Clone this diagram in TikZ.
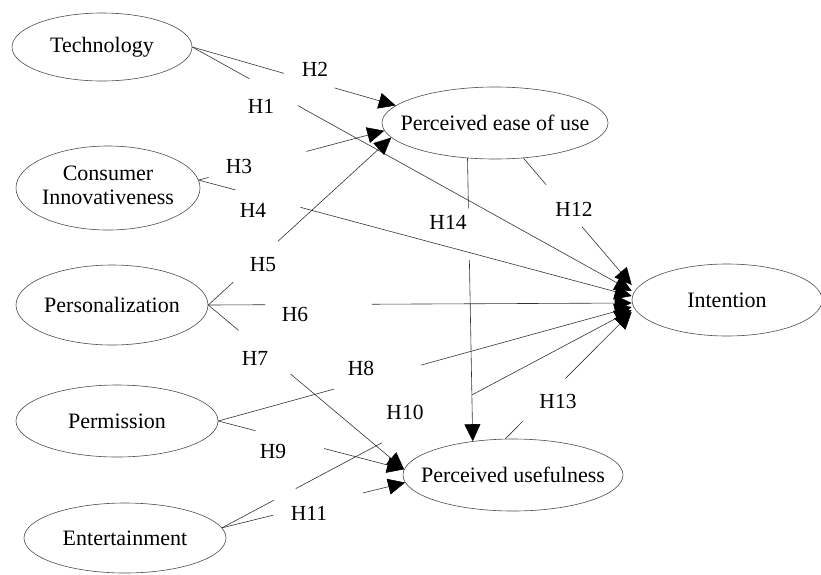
\documentclass[tikz,border=0pt]{standalone}
\usepackage{fontspec}
\setmainfont{Liberation Serif}
\usepackage{tikz}
\usetikzlibrary{shapes.geometric}
\usetikzlibrary{arrows.meta}
\usetikzlibrary{calc}

\begin{document}
\begin{tikzpicture}[x=1pt,y=-1pt,
    construct/.style={ellipse,draw=black!70,line width=0.6pt,inner sep=0pt,
      font=\fontsize{22}{24}\selectfont},
    hyp/.style={inner sep=0pt,font=\fontsize{21.5}{24}\selectfont},
    link/.style={draw=black!80,line width=0.6pt},
    headed/.style={link,-{Triangle[length=17pt,width=16pt,color=black]}}]
    \useasboundingbox (0,0) rectangle (821,574);
    % constructs
    \node[construct,minimum width=180pt,minimum height=68pt] (tech) at (102,47)
      {\makebox[0pt]{Technology}};
    \node[construct,minimum width=184pt,minimum height=84pt] (inno) at (108,188)
      {\makebox[0pt]{\begin{tabular}{@{}c@{}}Consumer\\Innovativeness\end{tabular}}};
    \node[construct,minimum width=192pt,minimum height=80pt] (pers) at (112,305)
      {\makebox[0pt]{Personalization}};
    \node[construct,minimum width=202pt,minimum height=72pt] (perm) at (117,421)
      {\makebox[0pt]{Permission}};
    \node[construct,minimum width=202pt,minimum height=70pt] (ent) at (125,538)
      {\makebox[0pt]{Entertainment}};
    \node[construct,minimum width=226pt,minimum height=72pt] (peou) at (495,123)
      {\makebox[0pt]{Perceived ease of use}};
    \node[construct,minimum width=190pt,minimum height=72pt] (int) at (727,300)
      {\makebox[0pt]{Intention}};
    \node[construct,minimum width=220pt,minimum height=72pt] (pu) at (513,475)
      {\makebox[0pt]{Perceived usefulness}};
    % hypothesis labels
    \node[hyp] (h1) at (261,106) {H1};
    \node[hyp] (h2) at (315,69) {H2};
    \node[hyp] (h3) at (239,166) {H3};
    \node[hyp] (h4) at (253,210) {H4};
    \node[hyp] (h5) at (263,265) {H5};
    \node[hyp] (h6) at (295,314) {H6};
    \node[hyp] (h7) at (255,358) {H7};
    \node[hyp] (h8) at (361,368) {H8};
    \node[hyp] (h9) at (273,451) {H9};
    \node[hyp] (h10) at (405,412) {H10};
    \node[hyp] (h11) at (309,513) {H11};
    \node[hyp] (h12) at (574,209) {H12};
    \node[hyp] (h13) at (558,401) {H13};
    \node[hyp] (h14) at (448,222) {H14};
    % ports on the west side of Intention
    \coordinate (in12) at ([yshift=15pt]int.west);
    \coordinate (in1) at ([yshift=9pt]int.west);
    \coordinate (in4) at ([yshift=4pt]int.west);
    \coordinate (in6) at ([yshift=-3pt]int.west);
    \coordinate (in8) at ([yshift=-7pt]int.west);
    \coordinate (in10) at ([yshift=-10pt]int.west);
    \coordinate (in13) at ([yshift=-12pt]int.west);
    % paths, broken where the label sits
    \draw[link] (tech.east) -- ($(tech.east)!0.13!(in1)$);
    \draw[headed] ($(tech.east)!0.24!(in1)$) -- (in1);
    \draw[link] (tech.east) -- ($(tech.east)!0.45!(peou.170)$);
    \draw[headed] ($(tech.east)!0.70!(peou.170)$) -- (peou.170);
    \draw[link] (inno.5) -- ($(inno.5)!0.053!(peou.184)$);
    \draw[headed] ($(inno.5)!0.58!(peou.184)$) -- (peou.184);
    \draw[link] (inno.5) -- ($(inno.5)!0.085!(in4)$);
    \draw[headed] ($(inno.5)!0.235!(in4)$) -- (in4);
    \draw[link] (pers.east) -- ($(pers.east)!0.136!(peou.188)$);
    \draw[headed] ($(pers.east)!0.38!(peou.188)$) -- (peou.188);
    \draw[link] (pers.east) -- ($(pers.east)!0.134!(in6)$);
    \draw[headed] ($(pers.east)!0.387!(in6)$) -- (in6);
    \draw[link] (pers.east) -- ($(pers.east)!0.154!(pu.177)$);
    \draw[headed] ($(pers.east)!0.42!(pu.177)$) -- (pu.177);
    \draw[link] (perm.east) -- ($(perm.east)!0.28!(in8)$);
    \draw[headed] ($(perm.east)!0.49!(in8)$) -- (in8);
    \draw[link] (perm.east) -- ($(perm.east)!0.2!(pu.177)$);
    \draw[headed] ($(perm.east)!0.57!(pu.177)$) -- (pu.177);
    \draw[link] (ent.6) -- ($(ent.6)!0.126!(in10)$);
    \draw[link] ($(ent.6)!0.18!(in10)$) -- ($(ent.6)!0.39!(in10)$);
    \draw[headed] ($(ent.6)!0.61!(in10)$) -- (in10);
    \draw[link] (ent.6) -- ($(ent.6)!0.28!(pu.184)$);
    \draw[headed] ($(ent.6)!0.77!(pu.184)$) -- (pu.184);
    \draw[link] (peou.-51) -- ($(peou.-51)!0.21!(in12)$);
    \draw[headed] ($(peou.-51)!0.54!(in12)$) -- (in12);
    \draw[link] (pu.102) -- ($(pu.102)!0.14!(in13)$);
    \draw[headed] ($(pu.102)!0.475!(in13)$) -- (in13);
    \draw[link] (peou.-128) -- ($(peou.-128)!0.177!(pu.140)$);
    \draw[headed] ($(peou.-128)!0.36!(pu.140)$) -- (pu.140);
\end{tikzpicture}
\end{document}
